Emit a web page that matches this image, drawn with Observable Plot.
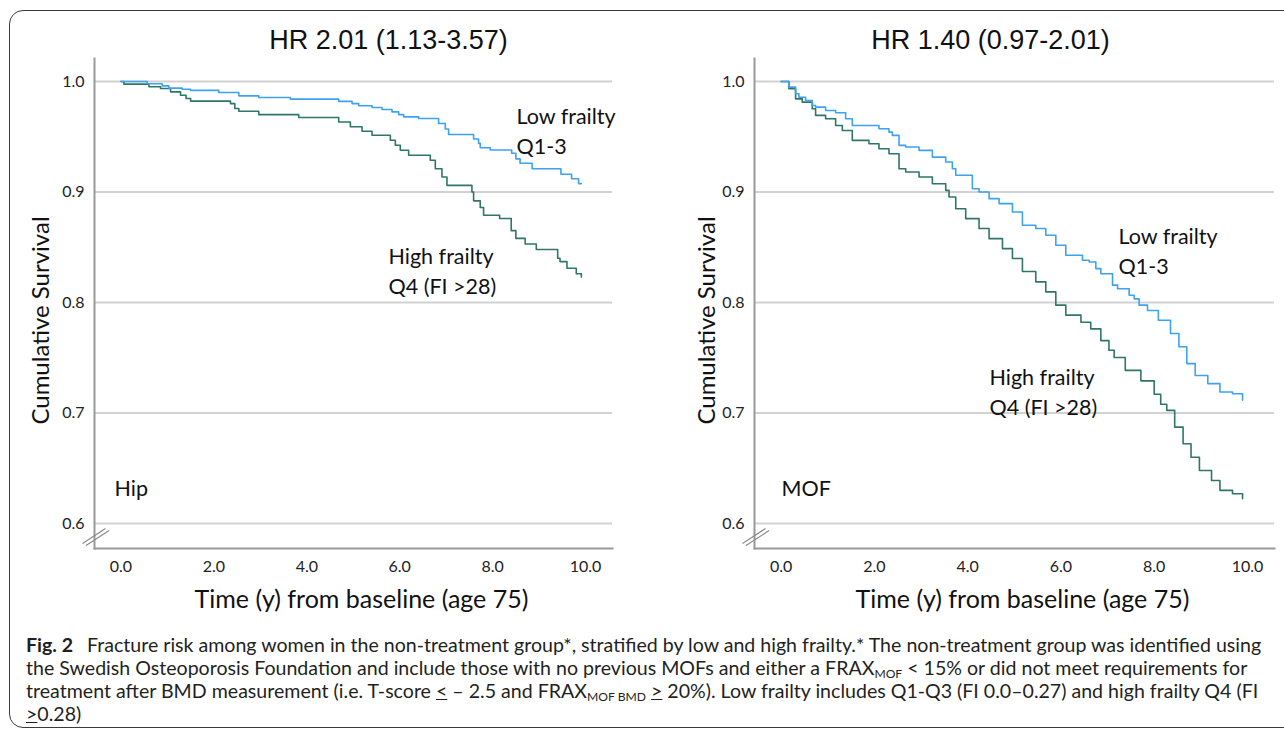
<!DOCTYPE html>
<html>
<head>
<meta charset="utf-8">
<script src="https://cdn.jsdelivr.net/npm/d3@7"></script>
<script src="https://cdn.jsdelivr.net/npm/@observablehq/plot@0.6"></script>
<style>
  html, body { margin: 0; padding: 0; background: #fff; }
  body { width: 1284px; height: 729px; overflow: hidden; position: relative; font-family: Lato, sans-serif; }
  #frame { position: absolute; left: 9px; top: 10px; width: 1320px; height: 716px; border: 1.3px solid #3a3a3a; border-radius: 14px; }
  .panel { position: absolute; top: 0; }
  .panel svg { overflow: visible; }
  #caption { position: absolute; left: 26px; top: 633px; color: #231f20; font-family: Lato, sans-serif; white-space: nowrap; line-height: 23px; }
  #caption sub { font-size: 0.62em; vertical-align: -0.25em; line-height: 0; }
  #caption b { font-weight: 700; margin-right: 0.45em; }
</style>
</head>
<body>
<div id="frame"></div>
<div id="left" class="panel" style="left:0px"></div>
<div id="right" class="panel" style="left:660px"></div>
<div id="caption">
  <div id="cap1"><b>Fig. 2</b> Fracture risk among women in the non-treatment group*, stratified by low and high frailty.* The non-treatment group was identified using</div>
  <div>the Swedish Osteoporosis Foundation and include those with no previous MOFs and either a FRAX<sub>MOF</sub> &lt; 15% or did not meet requirements for</div>
  <div>treatment after BMD measurement (i.e. T-score <u>&lt;</u> – 2.5 and FRAX<sub>MOF BMD</sub> <u>&gt;</u> 20%). Low frailty includes Q1-Q3 (FI 0.0–0.27) and high frailty Q4 (FI</div>
  <div><u>&gt;</u>0.28)</div>
</div>
<script>
// ---------- data (time in years, cumulative survival) ----------
const hipLow = [[0,1.0],[0.565,0.998],[0.887,0.996],[1.031,0.994],[1.318,0.993],[1.497,0.992],[2.106,0.990],[2.536,0.987],[2.966,0.9855],[3.647,0.984],[4.687,0.982],[4.974,0.980],[5.117,0.978],[5.404,0.9764],[5.619,0.9746],[5.834,0.9725],[5.977,0.970],[6.085,0.968],[6.407,0.9665],[6.837,0.962],[6.981,0.957],[7.052,0.952],[7.590,0.948],[7.697,0.944],[7.733,0.940],[7.948,0.938],[8.41,0.935],[8.50,0.930],[8.59,0.926],[8.85,0.921],[9.47,0.916],[9.70,0.912],[9.85,0.9076],[9.91,0.9076]];
const hipHigh = [[0,1.0],[0.063,0.9976],[0.601,0.9952],[0.852,0.9937],[1.067,0.9906],[1.282,0.9876],[1.40,0.9846],[1.50,0.9822],[2.357,0.980],[2.45,0.9755],[2.536,0.9731],[2.966,0.970],[3.826,0.9674],[4.687,0.9634],[4.938,0.959],[5.189,0.955],[5.404,0.9514],[5.798,0.9468],[5.905,0.9423],[6.013,0.9378],[6.192,0.9332],[6.658,0.9287],[6.766,0.9211],[6.909,0.9136],[7.017,0.906],[7.554,0.900],[7.59,0.892],[7.733,0.886],[7.805,0.879],[8.15,0.876],[8.4,0.865],[8.5,0.858],[8.7,0.853],[8.94,0.848],[9.4,0.840],[9.45,0.837],[9.6,0.831],[9.8,0.826],[9.91,0.823]];
const mofLow = [[0,1.0],[0.168,0.9949],[0.311,0.9889],[0.383,0.9858],[0.526,0.9828],[0.669,0.9783],[0.740,0.9768],[0.955,0.9738],[1.170,0.9717],[1.384,0.9663],[1.527,0.9602],[2.099,0.9572],[2.314,0.9542],[2.386,0.9512],[2.529,0.9422],[2.672,0.9407],[2.958,0.9377],[3.244,0.9316],[3.530,0.9271],[3.673,0.9211],[3.745,0.9151],[4.102,0.9030],[4.245,0.9000],[4.460,0.8940],[4.675,0.8895],[4.961,0.8819],[5.175,0.8699],[5.461,0.8669],[5.676,0.8608],[5.891,0.8518],[6.105,0.8428],[6.463,0.8383],[6.606,0.8367],[6.749,0.8307],[6.857,0.826],[7.107,0.8157],[7.215,0.8124],[7.463,0.8066],[7.57,0.8033],[7.677,0.7976],[7.857,0.7927],[8.09,0.784],[8.35,0.772],[8.53,0.760],[8.70,0.7447],[8.88,0.734],[9.15,0.7266],[9.41,0.719],[9.68,0.7175],[9.895,0.7115]];
const mofHigh = [[0,1.0],[0.168,0.9934],[0.311,0.9843],[0.454,0.9813],[0.669,0.9753],[0.740,0.9693],[0.955,0.9663],[1.170,0.9602],[1.313,0.9557],[1.527,0.9467],[1.885,0.9437],[2.099,0.9392],[2.314,0.9346],[2.529,0.9211],[2.672,0.9181],[2.958,0.9136],[3.244,0.9075],[3.530,0.9015],[3.601,0.8955],[3.745,0.8849],[3.959,0.8759],[4.245,0.8669],[4.460,0.8578],[4.747,0.8488],[4.961,0.8398],[5.175,0.828],[5.461,0.8187],[5.676,0.8096],[5.891,0.7976],[6.105,0.7886],[6.43,0.7821],[6.64,0.7761],[6.856,0.7655],[7.03,0.7568],[7.142,0.7503],[7.38,0.7386],[7.715,0.7291],[8.0,0.717],[8.14,0.7079],[8.27,0.7024],[8.44,0.6872],[8.62,0.6722],[8.79,0.66],[8.97,0.648],[9.23,0.639],[9.41,0.63],[9.68,0.627],[9.895,0.6225]];

const xTicks = [0, 2, 4, 6, 8, 10];
const yTicks = [0.6, 0.7, 0.8, 0.9, 1.0];
const titles = ["HR 2.01 (1.13-3.57)", "HR 1.40 (0.97-2.01)"];
const panelTags = ["Hip", "MOF"];
const lowLabel = "Low frailty\nQ1-3";
const highLabel = "High frailty\nQ4 (FI >28)";
const xLabel = "Time (y) from baseline (age 75)";
const yLabel = "Cumulative Survival";

// ---------- styling ----------
const BLUE = "#3fa2ef";
const GREEN = "#2f7669";
const AXIS = "#999999";
const GRID = "#d2d2d2";
const X_DOMAIN = [-0.57, 10.58];
const Y_DOMAIN = [0.5774, 1.0208];
const fmt = d3.format(".1f");

function breakMark(index, scales, values, dims) {
  const x0 = dims.marginLeft, y0 = dims.height - dims.marginBottom;
  const g = d3.create("svg:g").attr("stroke", "#8a8a8a").attr("stroke-width", 1.2);
  for (const o of [0, 3.5]) {
    g.append("line").attr("x1", x0 - 11.5 + o).attr("y1", y0 - 4.5 + o * 0.6)
      .attr("x2", x0 + 11.5 + o).attr("y2", y0 - 19.5 + o * 0.6);
  }
  return g.node();
}

function panel(opts) {
  const {low, high, title, tag, width, marginRight, titleDx, yLabelDx, lowPos, highPos, tagPos} = opts;
  return Plot.plot({
    width, height: 620,
    marginTop: 58, marginBottom: 72, marginLeft: 94, marginRight,
    style: {fontFamily: "Lato, sans-serif", color: "#222", background: "transparent", overflow: "visible"},
    x: {domain: X_DOMAIN},
    y: {domain: Y_DOMAIN},
    marks: [
      Plot.gridY(yTicks, {stroke: GRID, strokeOpacity: 1, strokeWidth: 2}),
      Plot.axisX(xTicks, {tickSize: 0, tickPadding: 12, fontSize: 16, tickFormat: fmt, label: null, fill: "#222"}),
      Plot.axisY(yTicks, {tickSize: 0, tickPadding: 10, fontSize: 16, tickFormat: fmt, label: null, fill: "#222"}),
      Plot.frame({anchor: "left", stroke: AXIS, strokeWidth: 2}),
      Plot.frame({anchor: "bottom", stroke: AXIS, strokeWidth: 2}),
      breakMark,
      Plot.line(high, {x: d => d[0], y: d => d[1], curve: "step-after", stroke: GREEN, strokeWidth: 1.6}),
      Plot.line(low, {x: d => d[0], y: d => d[1], curve: "step-after", stroke: BLUE, strokeWidth: 1.6}),
      Plot.text([title], {text: d => d, frameAnchor: "top", dx: titleDx, dy: -18, textAnchor: "middle", lineAnchor: "middle",
        fontSize: 27, fontFamily: "Liberation Sans, Arial, sans-serif", fill: "#111"}),
      Plot.text([xLabel], {text: d => d, frameAnchor: "bottom", dx: 8, dy: 51, textAnchor: "middle", lineAnchor: "middle", fontSize: 25, fill: "#111"}),
      Plot.text([yLabel], {text: d => d, frameAnchor: "left", rotate: -90, dx: yLabelDx, dy: 17, textAnchor: "middle", lineAnchor: "middle", fontSize: 24, fill: "#111"}),
      Plot.text([lowLabel], {text: d => d, frameAnchor: "top-left", dx: lowPos[0], dy: lowPos[1], textAnchor: "start", lineAnchor: "top", lineHeight: 1.4, fontSize: 21.5, fill: "#111"}),
      Plot.text([highLabel], {text: d => d, frameAnchor: "top-left", dx: highPos[0], dy: highPos[1], textAnchor: "start", lineAnchor: "top", lineHeight: 1.4, fontSize: 21.5, fill: "#111"}),
      Plot.text([tag], {text: d => d, frameAnchor: "top-left", dx: tagPos[0], dy: tagPos[1], textAnchor: "start", lineAnchor: "top", fontSize: 21.5, fill: "#111"})
    ]
  });
}

document.getElementById("left").append(panel({
  low: hipLow, high: hipHigh, title: titles[0], tag: panelTags[0],
  width: 640, marginRight: 28, titleDx: 35, yLabelDx: -53,
  lowPos: [422, 44], highPos: [294, 184], tagPos: [20, 422]
}));
document.getElementById("right").append(panel({
  low: mofLow, high: mofHigh, title: titles[1], tag: panelTags[1],
  width: 624, marginRight: 10, titleDx: -24, yLabelDx: -47,
  lowPos: [364, 164], highPos: [235, 305], tagPos: [27, 422]
}));

// fit caption font so the first line spans the same width as the reference
function fitCaption() {
  const cap = document.getElementById("caption");
  const l1 = document.getElementById("cap1");
  cap.style.fontSize = "18px";
  const w = l1.getBoundingClientRect().width;
  const target = 1236;
  cap.style.fontSize = (18 * target / w).toFixed(2) + "px";
}
fitCaption();
if (document.fonts && document.fonts.ready) document.fonts.ready.then(fitCaption);
</script>
</body>
</html>
